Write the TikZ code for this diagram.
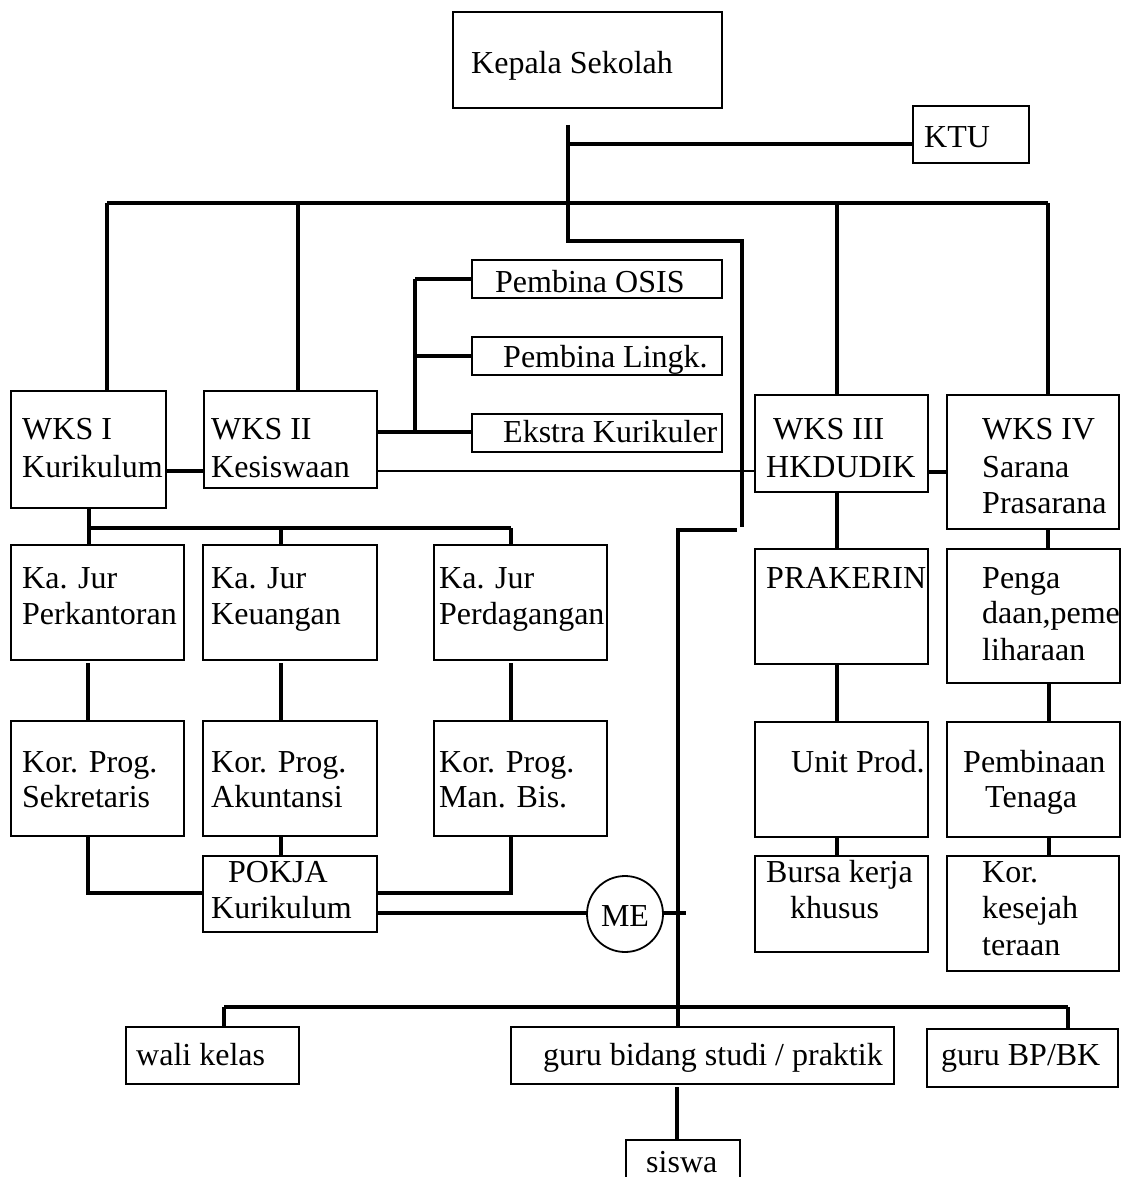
\documentclass[tikz,border=0pt]{standalone}
\usepackage{fontspec}
\setmainfont{Liberation Serif}
\newcommand\mkbox[5]{\node[box,minimum width={(#4-#2)*1pt},minimum height={(#5-#3)*1pt}] (#1) at (#2,#3) {};}
\begin{document}
\begin{tikzpicture}[x=1pt,y=-1pt,
  box/.style={draw,line width=1.8pt,inner sep=0pt,outer sep=0pt,anchor=north west},
  conn/.style={line width=3.6pt},
  thinconn/.style={line width=1.6pt},
  lbl/.style={anchor=base west,inner sep=0pt,font=\fontsize{32}{36}\selectfont}]
\useasboundingbox[fill=white] (0,0) rectangle (1121,1177);
% boxes
\mkbox{kepala}{453}{12}{722}{108}
\mkbox{ktu}{913}{106}{1029}{163}
\mkbox{wks1}{11}{391}{166}{508}
\mkbox{wks2}{204}{391}{377}{488}
\mkbox{osis}{472}{260}{722}{298}
\mkbox{lingk}{472}{337}{722}{375}
\mkbox{ekstra}{472}{414}{722}{452}
\mkbox{wks3}{755}{395}{928}{492}
\mkbox{wks4}{947}{395}{1119}{529}
\mkbox{kj1}{11}{545}{184}{660}
\mkbox{kj2}{203}{545}{377}{660}
\mkbox{kj3}{434}{545}{607}{660}
\mkbox{kp1}{11}{721}{184}{836}
\mkbox{kp2}{203}{721}{377}{836}
\mkbox{kp3}{434}{721}{607}{836}
\mkbox{pokja}{203}{856}{377}{932}
\mkbox{prak}{755}{549}{928}{664}
\mkbox{penga}{947}{549}{1120}{683}
\mkbox{unit}{755}{722}{928}{837}
\mkbox{pemb}{947}{722}{1120}{837}
\mkbox{bursa}{755}{856}{928}{952}
\mkbox{korkes}{947}{856}{1119}{971}
\mkbox{wali}{126}{1027}{299}{1084}
\mkbox{guru}{511}{1027}{894}{1084}
\mkbox{bp}{927}{1029}{1118}{1087}
\mkbox{siswa}{626}{1140}{740}{1200}
\node[draw,circle,line width=1.8pt,minimum size=76pt,inner sep=0pt] (me) at (625,914) {};
% junction coordinates
\coordinate (ks) at (568,125);
\coordinate (ktuj) at (568,144);
\coordinate (kb) at (568,241);
\coordinate (kr) at (742,241);
\coordinate (kre) at (742,527);
\coordinate (busl) at (107,203);
\coordinate (busr) at (1048,203);
\coordinate (d2) at (298,203);
\coordinate (d3) at (837,203);
\coordinate (pv) at (415,279);
\coordinate (w1b) at (89,509);
\coordinate (w1l) at (89,528);
\coordinate (w1m) at (281,528);
\coordinate (w1r) at (511,528);
\coordinate (la) at (88,663);
\coordinate (lb) at (281,663);
\coordinate (lc) at (511,663);
\coordinate (jr) at (737,530);
\coordinate (jl) at (678,530);
\coordinate (metick) at (686,913);
\coordinate (bl) at (224,1007);
\coordinate (br) at (1068,1007);
\coordinate (sv) at (677,1087);
\coordinate (c3) at (837,492);
\coordinate (c4) at (1048,529);
\coordinate (c5) at (1049,683);
% connectors
\draw[conn] (ks) -- (kb) -- (kr) -- (kre);
\draw[conn] (ktuj) -- (ktuj -| ktu.west);
\draw[conn] (busl) -- (busr);
\draw[conn] (busl) -- (busl |- wks1.north);
\draw[conn] (d2) -- (d2 |- wks2.north);
\draw[conn] (d3) -- (d3 |- wks3.north);
\draw[conn] (busr) -- (busr |- wks4.north);
\draw[conn] (wks1.east |- 0,471) -- (wks2.west |- 0,471);
\draw[conn] (wks2.east |- 0,432) -- (ekstra.west |- 0,432);
\draw[conn] (pv) -- (pv |- 0,432);
\draw[conn] (pv) -- (osis.west);
\draw[conn] (pv |- lingk.west) -- (lingk.west);
\draw[thinconn] (wks2.east |- 0,471) -- (wks3.west |- 0,471);
\draw[conn] (wks3.east |- 0,472) -- (wks4.west |- 0,472);
\draw[conn] (w1b) -- (w1b |- kj1.north);
\draw[conn] (w1l) -- (w1r);
\draw[conn] (w1m) -- (w1m |- kj2.north);
\draw[conn] (w1r) -- (w1r |- kj3.north);
\draw[conn] (la) -- (la |- kp1.north);
\draw[conn] (lb) -- (lb |- kp2.north);
\draw[conn] (lc) -- (lc |- kp3.north);
\draw[conn] (la |- kp1.south) -- (88,893) -- (pokja.west |- 0,893);
\draw[conn] (lc |- kp3.south) -- (511,893) -- (pokja.east |- 0,893);
\draw[conn] (lb |- kp2.south) -- (lb |- pokja.north);
\draw[conn] (pokja.east |- 0,913) -- (me.west |- 0,913);
\draw[conn] (me.east |- 0,913) -- (metick);
\draw[conn] (jr) -- (jl) -- (jl |- guru.north);
\draw[conn] (bl) -- (br);
\draw[conn] (bl) -- (bl |- wali.north);
\draw[conn] (br) -- (br |- bp.north);
\draw[conn] (sv) -- (sv |- siswa.north);
\draw[conn] (c3) -- (c3 |- prak.north);
\draw[conn] (c4) -- (c4 |- penga.north);
\draw[conn] (c3 |- prak.south) -- (c3 |- unit.north);
\draw[conn] (c3 |- unit.south) -- (c3 |- bursa.north);
\draw[conn] (c5) -- (c5 |- pemb.north);
\draw[conn] (c5 |- pemb.south) -- (c5 |- korkes.north);
% texts
\node[lbl] (tkep) at (471,74) {Kepala Sekolah};
\node[lbl] (tktu) at (924,148) {KTU};
\node[lbl] (tw1a) at (22,439) {WKS I};
\node[lbl] (tw1b) at (22,477) {Kurikulum};
\node[lbl] (tw2a) at (211,439) {WKS II};
\node[lbl] (tw2b) at (211,477) {Kesiswaan};
\node[lbl] (tosis) at (495,292) {Pembina OSIS};
\node[lbl] (tlingk) at (503,367) {Pembina Lingk.};
\node[lbl] (tekstra) at (503,442) {Ekstra Kurikuler};
\node[lbl] (tw3a) at (773,439) {WKS III};
\node[lbl] (tw3b) at (766,477) {HKDUDIK};
\node[lbl] (tw4a) at (982,439) {WKS IV};
\node[lbl] (tw4b) at (982,477) {Sarana};
\node[lbl] (tw4c) at (982,513) {Prasarana};
\node[lbl] (tkj1a) at (22,588) {Ka. Jur};
\node[lbl] (tkj1b) at (22,624) {Perkantoran};
\node[lbl] (tkj2a) at (211,588) {Ka. Jur};
\node[lbl] (tkj2b) at (211,624) {Keuangan};
\node[lbl] (tkj3a) at (439,588) {Ka. Jur};
\node[lbl] (tkj3b) at (439,624) {Perdagangan};
\node[lbl] (tkp1a) at (22,772) {Kor. Prog.};
\node[lbl] (tkp1b) at (22,807) {Sekretaris};
\node[lbl] (tkp2a) at (211,772) {Kor. Prog.};
\node[lbl] (tkp2b) at (211,807) {Akuntansi};
\node[lbl] (tkp3a) at (439,772) {Kor. Prog.};
\node[lbl] (tkp3b) at (439,807) {Man. Bis.};
\node[lbl] (tpokja) at (228,882) {POKJA};
\node[lbl] (tpokjb) at (211,918) {Kurikulum};
\node[lbl,anchor=base] (tme) at (625,926) {ME};
\node[lbl] (tprak) at (766,588) {PRAKERIN};
\node[lbl] (tpenga) at (982,588) {Penga};
\node[lbl] (tpengb) at (982,623) {daan,peme};
\node[lbl] (tpengc) at (982,660) {liharaan};
\node[lbl] (tunit) at (791,772) {Unit Prod.};
\node[lbl] (tpemba) at (963,772) {Pembinaan};
\node[lbl] (tpembb) at (985,807) {Tenaga};
\node[lbl] (tbursa) at (766,882) {Bursa kerja};
\node[lbl] (tbursb) at (790,918) {khusus};
\node[lbl] (tkora) at (982,882) {Kor.};
\node[lbl] (tkorb) at (982,918) {kesejah};
\node[lbl] (tkorc) at (982,955) {teraan};
\node[lbl] (twali) at (136,1065) {wali kelas};
\node[lbl] (tguru) at (543,1065) {guru bidang studi / praktik};
\node[lbl] (tbp) at (941,1065) {guru BP/BK};
\node[lbl] (tsiswa) at (646,1172) {siswa};
\end{tikzpicture}
\end{document}
